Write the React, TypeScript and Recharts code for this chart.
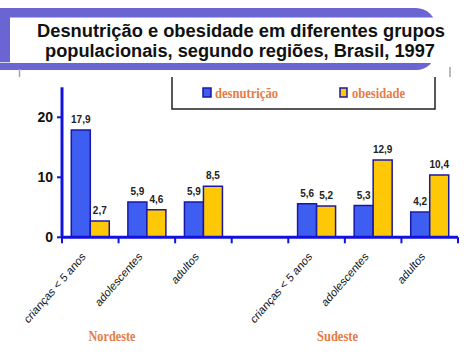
import React from 'react';
import { BarChart, Bar, XAxis, YAxis, LabelList } from 'recharts';

const regions = ['Nordeste', 'Sudeste'];
const groups = ['crianças < 5 anos', 'adolescentes', 'adultos'];
const desnutricaoNordeste = [17.9, 5.9, 5.9];
const obesidadeNordeste = [2.7, 4.6, 8.5];
const desnutricaoSudeste = [5.6, 5.3, 4.2];
const obesidadeSudeste = [5.2, 12.9, 10.4];
const yTicks = [0, 10, 20];
const seriesNames = ['desnutrição', 'obesidade'];
const titleLines = [
  'Desnutrição e obesidade em diferentes grupos',
  'populacionais, segundo regiões, Brasil, 1997',
];

const data = [
  ...groups.map((g, i) => ({ slot: `N${i}`, label: g, desnutricao: desnutricaoNordeste[i], obesidade: obesidadeNordeste[i] })),
  { slot: 'gap', label: '', desnutricao: null, obesidade: null },
  ...groups.map((g, i) => ({ slot: `S${i}`, label: g, desnutricao: desnutricaoSudeste[i], obesidade: obesidadeSudeste[i] })),
];

const AXIS = '#1212dc';
const BLUE = '#3d5ef0';
const YELLOW = '#ffc807';
const EDGE = '#1818a8';
const PURPLE = '#6b64d3';
const ORANGE = '#e57c45';

const fmt = (v: any) => (v == null ? '' : Number(v).toFixed(1).replace('.', ','));

const CatTick = (props: any) => {
  const { x, y, payload, width } = props;
  const idx = payload?.index ?? props.index ?? 0;
  const half = payload?.offset ?? (width ? width / (2 * data.length) : 28.3);
  const axisY = y - 8;
  const label = data[idx]?.label ?? '';
  const isLast = idx === data.length - 1;
  const lx = x - 4;
  const ly = y + 12;
  return (
    <g>
      <line x1={x - half} x2={x - half} y1={axisY} y2={axisY + 6} stroke={AXIS} strokeWidth={2} />
      {isLast && <line x1={x + half} x2={x + half} y1={axisY} y2={axisY + 6} stroke={AXIS} strokeWidth={2} />}
      {label && (
        <text
          x={0}
          y={0}
          transform={`translate(${lx}, ${ly}) scale(0.87, 1) rotate(-45)`}
          textAnchor="end"
          fontSize={12}
          fontFamily="Arial, 'Liberation Sans', sans-serif"
          fill="#111"
        >
          {label}
        </text>
      )}
    </g>
  );
};

const labelStyle = {
  fill: '#222',
  fontSize: 10,
  fontWeight: 'bold' as const,
  fontFamily: "'Liberation Sans Narrow', 'Arial Narrow', Arial, sans-serif",
};

export default function App() {
  return (
    <div style={{ position: 'absolute', left: 0, top: 0, width: 474, height: 355, background: '#fff', overflow: 'hidden' }}>
      <BarChart
        width={474}
        height={355}
        data={data}
        margin={{ top: 87.3, right: 16, bottom: 57.7, left: 12 }}
        barCategoryGap={9.3}
        barGap={0}
      >
        <XAxis
          dataKey="slot"
          height={60}
          interval={0}
          tickLine={false}
          tickSize={6}
          tickMargin={2}
          axisLine={{ stroke: AXIS, strokeWidth: 3 }}
          tick={<CatTick />}
        />
        <YAxis
          width={50}
          domain={[0, 25]}
          ticks={yTicks}
          interval={0}
          axisLine={{ stroke: AXIS, strokeWidth: 3 }}
          tickLine={{ stroke: AXIS, strokeWidth: 2 }}
          tickSize={5}
          tickMargin={4}
          tick={{
            fill: '#111',
            fontSize: 14,
            fontWeight: 'bold',
            fontFamily: "'Liberation Sans Narrow', 'Arial Narrow', Arial, sans-serif",
          }}
        />
        <Bar dataKey="desnutricao" name={seriesNames[0]} fill={BLUE} stroke={EDGE} strokeWidth={1.5} isAnimationActive={false}>
          <LabelList dataKey="desnutricao" position="top" offset={7} formatter={fmt} style={labelStyle} />
        </Bar>
        <Bar dataKey="obesidade" name={seriesNames[1]} fill={YELLOW} stroke={EDGE} strokeWidth={1.5} isAnimationActive={false}>
          <LabelList dataKey="obesidade" position="top" offset={7} formatter={fmt} style={labelStyle} />
        </Bar>
      </BarChart>

      <svg width={474} height={355} style={{ position: 'absolute', left: 0, top: 0, pointerEvents: 'none' }}>
        {/* legend box */}
        <path d="M172,77 V109 H435 V77" fill="none" stroke="#222" strokeWidth={1.5} />
        <rect x={203} y={88} width={8} height={9} fill={BLUE} stroke={EDGE} strokeWidth={1.5} />
        <text x={215} y={97.5} fontSize={14} fontWeight="bold" fontFamily="'Liberation Serif', 'Times New Roman', serif" fill={ORANGE} textLength={63} lengthAdjust="spacingAndGlyphs">
          {seriesNames[0]}
        </text>
        <rect x={340} y={88} width={7} height={9} fill={YELLOW} stroke={EDGE} strokeWidth={1.5} />
        <text x={352} y={97.5} fontSize={14} fontWeight="bold" fontFamily="'Liberation Serif', 'Times New Roman', serif" fill={ORANGE} textLength={53} lengthAdjust="spacingAndGlyphs">
          {seriesNames[1]}
        </text>

        {/* banner */}
        <path d="M0,8 H416 A20,20 0 0 1 436,28 V50 A20,20 0 0 1 416,70 H0 Z" fill={PURPLE} />
        <rect x={10} y={17.5} width={464} height={45.5} fill="#fff" />
        <line x1={0} x2={10} y1={62.5} y2={62.5} stroke="#d8d8ee" strokeWidth={1} />
        <line x1={19.5} x2={19.5} y1={69} y2={77} stroke="#9aa8a0" strokeWidth={1.5} />
        <line x1={450} x2={450} y1={67} y2={77} stroke="#9aa8a0" strokeWidth={1.5} />
        <text x={241} y={36.5} textAnchor="middle" fontSize={18.3} fontWeight="bold" fontFamily="Arial, 'Liberation Sans', sans-serif" fill="#111" textLength={408} lengthAdjust="spacingAndGlyphs">
          {titleLines[0]}
        </text>
        <text x={240} y={56.5} textAnchor="middle" fontSize={18.3} fontWeight="bold" fontFamily="Arial, 'Liberation Sans', sans-serif" fill="#111" textLength={390} lengthAdjust="spacingAndGlyphs">
          {titleLines[1]}
        </text>

        {/* region labels */}
        <text x={112} y={341} textAnchor="middle" fontSize={14.5} fontWeight="bold" fontFamily="'Liberation Serif', 'Times New Roman', serif" fill={ORANGE} textLength={47} lengthAdjust="spacingAndGlyphs">
          {regions[0]}
        </text>
        <text x={337.5} y={341} textAnchor="middle" fontSize={14.5} fontWeight="bold" fontFamily="'Liberation Serif', 'Times New Roman', serif" fill={ORANGE} textLength={41} lengthAdjust="spacingAndGlyphs">
          {regions[1]}
        </text>
      </svg>
    </div>
  );
}
